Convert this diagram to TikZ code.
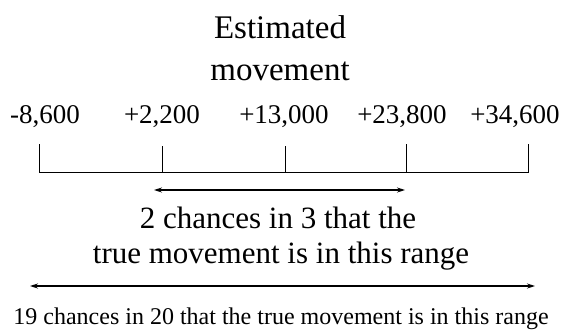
\documentclass[tikz,border=0pt]{standalone}
\usepackage{fontspec}
\setmainfont{Liberation Serif}
\usetikzlibrary{arrows.meta}
\begin{document}
\begin{tikzpicture}[x=1pt,y=-1pt,
  lbl/.style={inner sep=0pt,anchor=base,font=\fontsize{33}{36}\selectfont},
  num/.style={inner sep=0pt,anchor=base,font=\fontsize{27}{30}\selectfont},
  mid/.style={inner sep=0pt,anchor=base,font=\fontsize{31}{34}\selectfont},
  small/.style={inner sep=0pt,anchor=base,font=\fontsize{24}{26}\selectfont},
  axis/.style={line width=1pt},
  rng/.style={line width=1.1pt,{Stealth[length=8pt,width=5pt]}-{Stealth[length=8pt,width=5pt]}}]
\useasboundingbox (0,0) rectangle (563,333);
\node[lbl] (t1) at (280,38) {Estimated};
\node[lbl] (t2) at (280,80) {movement};
\node[num] (n1) at (45,123) {-8,600};
\node[num] (n2) at (162,123) {+2,200};
\node[num] (n3) at (284,123) {+13,000};
\node[num] (n4) at (402,123) {+23,800};
\node[num] (n5) at (515,123) {+34,600};
\coordinate (a1) at (39,144);
\coordinate (a2) at (162,146);
\coordinate (a3) at (285,146);
\coordinate (a4) at (406,144);
\coordinate (a5) at (528,144);
\coordinate (b1) at (39,172);
\coordinate (b2) at (162,172);
\coordinate (b3) at (285,172);
\coordinate (b4) at (406,172);
\coordinate (b5) at (528,172);
\draw[axis] (a1) -- (b1) -- (b5) -- (a5);
\draw[axis] (a2) -- (b2);
\draw[axis] (a3) -- (b3);
\draw[axis] (a4) -- (b4);
\coordinate (r1) at (154,190);
\coordinate (r2) at (405,190);
\draw[rng] (r1) -- (r2);
\node[mid] (c1) at (278,228) {2 chances in 3 that the};
\node[mid] (c2) at (281,263) {true movement is in this range};
\coordinate (s1) at (30,286);
\coordinate (s2) at (535,286);
\draw[rng] (s1) -- (s2);
\node[small] (d1) at (281,324) {19 chances in 20 that the true movement is in this range};
\end{tikzpicture}
\end{document}
